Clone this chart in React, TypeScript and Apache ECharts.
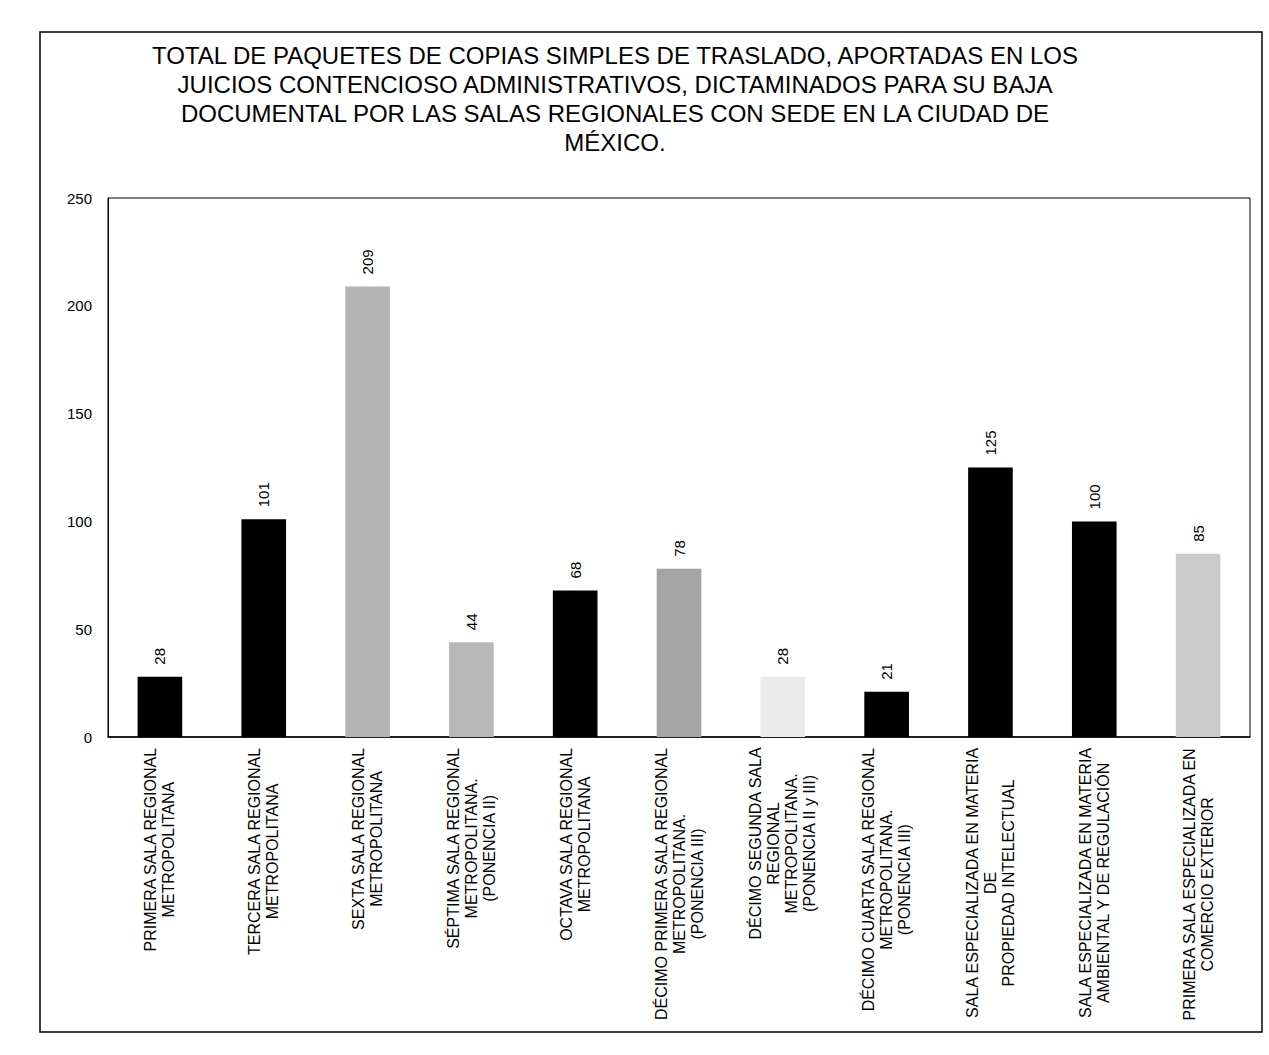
import React, { useEffect, useRef } from "react";
import * as echarts from "echarts";

const titleText =
  "TOTAL DE PAQUETES DE COPIAS SIMPLES DE TRASLADO, APORTADAS EN LOS\nJUICIOS CONTENCIOSO ADMINISTRATIVOS, DICTAMINADOS PARA SU BAJA\nDOCUMENTAL POR LAS SALAS REGIONALES CON SEDE EN LA CIUDAD DE\nMÉXICO.";

const categories = [
  "PRIMERA SALA REGIONAL\nMETROPOLITANA",
  "TERCERA SALA REGIONAL\nMETROPOLITANA",
  "SEXTA SALA REGIONAL\nMETROPOLITANA",
  "SÉPTIMA SALA REGIONAL\nMETROPOLITANA.\n(PONENCIA II)",
  "OCTAVA SALA REGIONAL\nMETROPOLITANA",
  "DÉCIMO PRIMERA SALA REGIONAL\nMETROPOLITANA.\n(PONENCIA III)",
  "DÉCIMO SEGUNDA SALA\nREGIONAL\nMETROPOLITANA.\n(PONENCIA II y III)",
  "DÉCIMO CUARTA SALA REGIONAL\nMETROPOLITANA.\n(PONENCIA III)",
  "SALA ESPECIALIZADA EN MATERIA\nDE\nPROPIEDAD INTELECTUAL",
  "SALA ESPECIALIZADA EN MATERIA\nAMBIENTAL Y DE REGULACIÓN",
  "PRIMERA SALA ESPECIALIZADA EN\nCOMERCIO EXTERIOR",
];

const values = [28, 101, 209, 44, 68, 78, 28, 21, 125, 100, 85];

const yTicks = [0, 50, 100, 150, 200, 250];

const barFills = [
  "#000000",
  "#000000",
  "#b4b4b4",
  "#b8b8b8",
  "#000000",
  "#a4a4a4",
  "#ebebeb",
  "#000000",
  "#000000",
  "#000000",
  "#cbcbcb",
];

const FONT = "'Liberation Sans', Arial, sans-serif";

export default function App() {
  const ref = useRef<HTMLDivElement>(null);

  useEffect(() => {
    if (!ref.current) return;
    const chart = echarts.init(ref.current, null, { renderer: "svg" });
    const option: any = {
      animation: false,
      backgroundColor: "#ffffff",
      textStyle: { fontFamily: FONT },
      title: {
        text: titleText,
        left: 610,
        top: 36,
        textAlign: "center",
        textStyle: {
          fontFamily: FONT,
          fontSize: 24,
          fontWeight: "normal",
          color: "#000",
          lineHeight: 29,
          align: "center",
        },
      },
      graphic: [
        {
          type: "rect",
          shape: { x: 40, y: 32, width: 1222, height: 1000 },
          style: { fill: "none", stroke: "#000", lineWidth: 1.5 },
          silent: true,
        },
      ],
      grid: {
        left: 108,
        right: 19,
        top: 198,
        bottom: 318,
        show: true,
        borderColor: "#000",
        borderWidth: 1,
        backgroundColor: "transparent",
      },
      xAxis: {
        type: "category",
        data: categories,
        axisLine: { show: true, lineStyle: { color: "#000", width: 1.5 } },
        axisTick: { show: false },
        axisLabel: {
          interval: 0,
          rotate: 90,
          margin: 10,
          color: "#000",
          fontFamily: FONT,
          fontSize: 16,
          lineHeight: 18,
          formatter: (v: string) =>
            v
              .split("\n")
              .map((l) => `{c|${l}}`)
              .join("\n"),
          rich: {
            c: {
              align: "center",
              fontFamily: FONT,
              fontSize: 16,
              lineHeight: 18,
              color: "#000",
            },
          },
        },
      },
      yAxis: {
        type: "value",
        min: yTicks[0],
        max: yTicks[yTicks.length - 1],
        interval: yTicks[1] - yTicks[0],
        axisLine: { show: true, lineStyle: { color: "#000" } },
        axisTick: { show: false },
        splitLine: { show: false },
        axisLabel: {
          margin: 16,
          color: "#000",
          fontFamily: FONT,
          fontSize: 15,
        },
      },
      series: [
        {
          type: "bar",
          barWidth: "43%",
          data: values.map((v, i) => ({
            value: v,
            itemStyle: { color: barFills[i] },
          })),
          label: {
            show: true,
            position: "top",
            rotate: 90,
            distance: 12,
            align: "left",
            verticalAlign: "middle",
            color: "#000",
            fontFamily: FONT,
            fontSize: 15,
          },
        },
      ],
    };
    chart.setOption(option);
    return () => chart.dispose();
  }, []);

  return (
    <div
      ref={ref}
      style={{
        position: "fixed",
        left: 0,
        top: 0,
        width: 1269,
        height: 1055,
        background: "#fff",
      }}
    />
  );
}
